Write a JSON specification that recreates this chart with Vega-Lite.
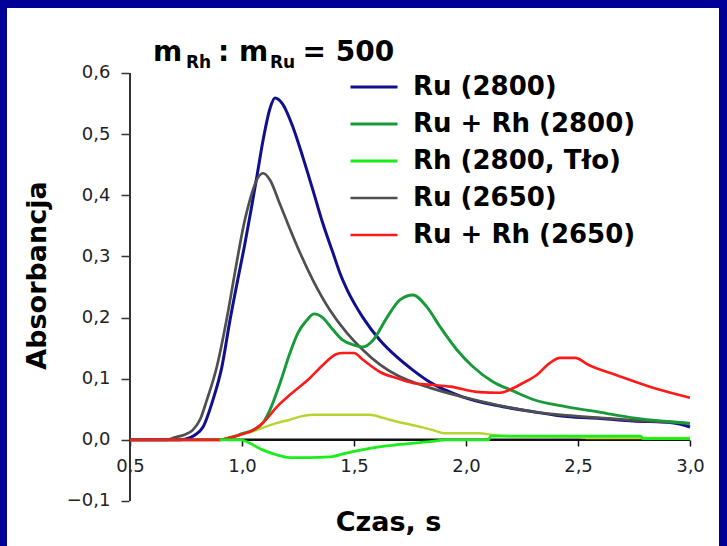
{
  "$schema": "https://vega.github.io/schema/vega-lite/v6.json",
  "width": 712,
  "height": 538,
  "autosize": {"type": "none"},
  "padding": {"left": 7, "top": 8, "right": 8, "bottom": 0},
  "background": "#000099",
  "config": {
    "view": {"fill": "white", "stroke": null},
    "font": "DejaVu Sans"
  },
  "datasets": {
    "one": [{}],
    "curves": [
      {"s": "Ru (2800)", "x": 0.5, "y": 0},
      {"s": "Ru (2800)", "x": 0.7, "y": 0},
      {"s": "Ru (2800)", "x": 0.745, "y": 0.001},
      {"s": "Ru (2800)", "x": 0.79, "y": 0.008},
      {"s": "Ru (2800)", "x": 0.826, "y": 0.021},
      {"s": "Ru (2800)", "x": 0.87, "y": 0.065},
      {"s": "Ru (2800)", "x": 0.91, "y": 0.119},
      {"s": "Ru (2800)", "x": 0.946, "y": 0.195},
      {"s": "Ru (2800)", "x": 0.98, "y": 0.26},
      {"s": "Ru (2800)", "x": 1.01, "y": 0.315},
      {"s": "Ru (2800)", "x": 1.04, "y": 0.375},
      {"s": "Ru (2800)", "x": 1.067, "y": 0.432},
      {"s": "Ru (2800)", "x": 1.094, "y": 0.49},
      {"s": "Ru (2800)", "x": 1.125, "y": 0.542},
      {"s": "Ru (2800)", "x": 1.147, "y": 0.559},
      {"s": "Ru (2800)", "x": 1.18, "y": 0.55},
      {"s": "Ru (2800)", "x": 1.228, "y": 0.511},
      {"s": "Ru (2800)", "x": 1.272, "y": 0.462},
      {"s": "Ru (2800)", "x": 1.317, "y": 0.408},
      {"s": "Ru (2800)", "x": 1.36, "y": 0.355},
      {"s": "Ru (2800)", "x": 1.406, "y": 0.306},
      {"s": "Ru (2800)", "x": 1.44, "y": 0.27},
      {"s": "Ru (2800)", "x": 1.47, "y": 0.245},
      {"s": "Ru (2800)", "x": 1.5, "y": 0.224},
      {"s": "Ru (2800)", "x": 1.54, "y": 0.2},
      {"s": "Ru (2800)", "x": 1.616, "y": 0.163},
      {"s": "Ru (2800)", "x": 1.69, "y": 0.136},
      {"s": "Ru (2800)", "x": 1.763, "y": 0.114},
      {"s": "Ru (2800)", "x": 1.84, "y": 0.094},
      {"s": "Ru (2800)", "x": 1.987, "y": 0.07},
      {"s": "Ru (2800)", "x": 2.14, "y": 0.056},
      {"s": "Ru (2800)", "x": 2.3, "y": 0.046},
      {"s": "Ru (2800)", "x": 2.45, "y": 0.038},
      {"s": "Ru (2800)", "x": 2.6, "y": 0.035},
      {"s": "Ru (2800)", "x": 2.746, "y": 0.031},
      {"s": "Ru (2800)", "x": 2.92, "y": 0.028},
      {"s": "Ru (2800)", "x": 3.0, "y": 0.021},

      {"s": "Ru (2650)", "x": 0.5, "y": 0},
      {"s": "Ru (2650)", "x": 0.66, "y": 0},
      {"s": "Ru (2650)", "x": 0.7, "y": 0.004},
      {"s": "Ru (2650)", "x": 0.74, "y": 0.008},
      {"s": "Ru (2650)", "x": 0.78, "y": 0.016},
      {"s": "Ru (2650)", "x": 0.815, "y": 0.035},
      {"s": "Ru (2650)", "x": 0.843, "y": 0.065},
      {"s": "Ru (2650)", "x": 0.888, "y": 0.12},
      {"s": "Ru (2650)", "x": 0.933, "y": 0.2},
      {"s": "Ru (2650)", "x": 0.969, "y": 0.275},
      {"s": "Ru (2650)", "x": 0.99, "y": 0.318},
      {"s": "Ru (2650)", "x": 1.01, "y": 0.355},
      {"s": "Ru (2650)", "x": 1.03, "y": 0.385},
      {"s": "Ru (2650)", "x": 1.05, "y": 0.41},
      {"s": "Ru (2650)", "x": 1.07, "y": 0.428},
      {"s": "Ru (2650)", "x": 1.095, "y": 0.436},
      {"s": "Ru (2650)", "x": 1.125, "y": 0.425},
      {"s": "Ru (2650)", "x": 1.17, "y": 0.385},
      {"s": "Ru (2650)", "x": 1.214, "y": 0.345},
      {"s": "Ru (2650)", "x": 1.259, "y": 0.306},
      {"s": "Ru (2650)", "x": 1.317, "y": 0.261},
      {"s": "Ru (2650)", "x": 1.393, "y": 0.212},
      {"s": "Ru (2650)", "x": 1.468, "y": 0.175},
      {"s": "Ru (2650)", "x": 1.54, "y": 0.147},
      {"s": "Ru (2650)", "x": 1.616, "y": 0.123},
      {"s": "Ru (2650)", "x": 1.69, "y": 0.106},
      {"s": "Ru (2650)", "x": 1.84, "y": 0.085},
      {"s": "Ru (2650)", "x": 1.987, "y": 0.07},
      {"s": "Ru (2650)", "x": 2.14, "y": 0.057},
      {"s": "Ru (2650)", "x": 2.3, "y": 0.046},
      {"s": "Ru (2650)", "x": 2.45, "y": 0.04},
      {"s": "Ru (2650)", "x": 2.6, "y": 0.036},
      {"s": "Ru (2650)", "x": 2.75, "y": 0.032},
      {"s": "Ru (2650)", "x": 2.9, "y": 0.029},
      {"s": "Ru (2650)", "x": 3.0, "y": 0.027},

      {"s": "Rh (2650, Tło)", "x": 0.9, "y": 0},
      {"s": "Rh (2650, Tło)", "x": 0.99, "y": 0.008},
      {"s": "Rh (2650, Tło)", "x": 1.05, "y": 0.014},
      {"s": "Rh (2650, Tło)", "x": 1.094, "y": 0.02},
      {"s": "Rh (2650, Tło)", "x": 1.15, "y": 0.027},
      {"s": "Rh (2650, Tło)", "x": 1.214, "y": 0.033},
      {"s": "Rh (2650, Tło)", "x": 1.26, "y": 0.038},
      {"s": "Rh (2650, Tło)", "x": 1.317, "y": 0.041},
      {"s": "Rh (2650, Tło)", "x": 1.45, "y": 0.041},
      {"s": "Rh (2650, Tło)", "x": 1.57, "y": 0.041},
      {"s": "Rh (2650, Tło)", "x": 1.63, "y": 0.036},
      {"s": "Rh (2650, Tło)", "x": 1.69, "y": 0.03},
      {"s": "Rh (2650, Tło)", "x": 1.75, "y": 0.025},
      {"s": "Rh (2650, Tło)", "x": 1.81, "y": 0.02},
      {"s": "Rh (2650, Tło)", "x": 1.86, "y": 0.015},
      {"s": "Rh (2650, Tło)", "x": 1.9, "y": 0.011},
      {"s": "Rh (2650, Tło)", "x": 2.06, "y": 0.011},
      {"s": "Rh (2650, Tło)", "x": 2.12, "y": 0.008},
      {"s": "Rh (2650, Tło)", "x": 2.2, "y": 0.006},
      {"s": "Rh (2650, Tło)", "x": 2.5, "y": 0.005},
      {"s": "Rh (2650, Tło)", "x": 2.55, "y": 0.003},
      {"s": "Rh (2650, Tło)", "x": 3.0, "y": 0.003},

      {"s": "Ru + Rh (2800)", "x": 0.5, "y": 0},
      {"s": "Ru + Rh (2800)", "x": 0.9, "y": 0},
      {"s": "Ru + Rh (2800)", "x": 0.95, "y": 0.004},
      {"s": "Ru + Rh (2800)", "x": 1.0, "y": 0.01},
      {"s": "Ru + Rh (2800)", "x": 1.05, "y": 0.016},
      {"s": "Ru + Rh (2800)", "x": 1.094, "y": 0.028},
      {"s": "Ru + Rh (2800)", "x": 1.125, "y": 0.049},
      {"s": "Ru + Rh (2800)", "x": 1.17, "y": 0.093},
      {"s": "Ru + Rh (2800)", "x": 1.214, "y": 0.142},
      {"s": "Ru + Rh (2800)", "x": 1.25, "y": 0.175},
      {"s": "Ru + Rh (2800)", "x": 1.29, "y": 0.196},
      {"s": "Ru + Rh (2800)", "x": 1.322, "y": 0.206},
      {"s": "Ru + Rh (2800)", "x": 1.36, "y": 0.2},
      {"s": "Ru + Rh (2800)", "x": 1.406, "y": 0.18},
      {"s": "Ru + Rh (2800)", "x": 1.45, "y": 0.163},
      {"s": "Ru + Rh (2800)", "x": 1.5, "y": 0.155},
      {"s": "Ru + Rh (2800)", "x": 1.54, "y": 0.152},
      {"s": "Ru + Rh (2800)", "x": 1.585, "y": 0.163},
      {"s": "Ru + Rh (2800)", "x": 1.647, "y": 0.2},
      {"s": "Ru + Rh (2800)", "x": 1.705, "y": 0.229},
      {"s": "Ru + Rh (2800)", "x": 1.763, "y": 0.237},
      {"s": "Ru + Rh (2800)", "x": 1.826, "y": 0.217},
      {"s": "Ru + Rh (2800)", "x": 1.884, "y": 0.185},
      {"s": "Ru + Rh (2800)", "x": 1.96, "y": 0.147},
      {"s": "Ru + Rh (2800)", "x": 2.03, "y": 0.12},
      {"s": "Ru + Rh (2800)", "x": 2.12, "y": 0.095},
      {"s": "Ru + Rh (2800)", "x": 2.21, "y": 0.08},
      {"s": "Ru + Rh (2800)", "x": 2.3, "y": 0.066},
      {"s": "Ru + Rh (2800)", "x": 2.45, "y": 0.054},
      {"s": "Ru + Rh (2800)", "x": 2.6, "y": 0.045},
      {"s": "Ru + Rh (2800)", "x": 2.746, "y": 0.036},
      {"s": "Ru + Rh (2800)", "x": 2.9, "y": 0.03},
      {"s": "Ru + Rh (2800)", "x": 3.0, "y": 0.027},

      {"s": "Ru + Rh (2650)", "x": 0.5, "y": 0},
      {"s": "Ru + Rh (2650)", "x": 0.9, "y": 0},
      {"s": "Ru + Rh (2650)", "x": 0.95, "y": 0.004},
      {"s": "Ru + Rh (2650)", "x": 0.99, "y": 0.008},
      {"s": "Ru + Rh (2650)", "x": 1.05, "y": 0.016},
      {"s": "Ru + Rh (2650)", "x": 1.094, "y": 0.028},
      {"s": "Ru + Rh (2650)", "x": 1.156, "y": 0.054},
      {"s": "Ru + Rh (2650)", "x": 1.228, "y": 0.078},
      {"s": "Ru + Rh (2650)", "x": 1.3, "y": 0.1},
      {"s": "Ru + Rh (2650)", "x": 1.36, "y": 0.122},
      {"s": "Ru + Rh (2650)", "x": 1.42, "y": 0.14},
      {"s": "Ru + Rh (2650)", "x": 1.45, "y": 0.142},
      {"s": "Ru + Rh (2650)", "x": 1.5, "y": 0.142},
      {"s": "Ru + Rh (2650)", "x": 1.54, "y": 0.131},
      {"s": "Ru + Rh (2650)", "x": 1.616, "y": 0.111},
      {"s": "Ru + Rh (2650)", "x": 1.69, "y": 0.101},
      {"s": "Ru + Rh (2650)", "x": 1.763, "y": 0.093},
      {"s": "Ru + Rh (2650)", "x": 1.84, "y": 0.09},
      {"s": "Ru + Rh (2650)", "x": 1.93, "y": 0.087},
      {"s": "Ru + Rh (2650)", "x": 2.06, "y": 0.078},
      {"s": "Ru + Rh (2650)", "x": 2.15, "y": 0.077},
      {"s": "Ru + Rh (2650)", "x": 2.196, "y": 0.082},
      {"s": "Ru + Rh (2650)", "x": 2.254, "y": 0.093},
      {"s": "Ru + Rh (2650)", "x": 2.316, "y": 0.106},
      {"s": "Ru + Rh (2650)", "x": 2.375, "y": 0.126},
      {"s": "Ru + Rh (2650)", "x": 2.42, "y": 0.134},
      {"s": "Ru + Rh (2650)", "x": 2.487, "y": 0.134},
      {"s": "Ru + Rh (2650)", "x": 2.55, "y": 0.122},
      {"s": "Ru + Rh (2650)", "x": 2.67, "y": 0.106},
      {"s": "Ru + Rh (2650)", "x": 2.82, "y": 0.087},
      {"s": "Ru + Rh (2650)", "x": 3.0, "y": 0.069},

      {"s": "Rh (2800, Tło)", "x": 0.9, "y": 0},
      {"s": "Rh (2800, Tło)", "x": 0.99, "y": 0},
      {"s": "Rh (2800, Tło)", "x": 1.09, "y": -0.016},
      {"s": "Rh (2800, Tło)", "x": 1.15, "y": -0.024},
      {"s": "Rh (2800, Tło)", "x": 1.214, "y": -0.029},
      {"s": "Rh (2800, Tło)", "x": 1.3, "y": -0.029},
      {"s": "Rh (2800, Tło)", "x": 1.39, "y": -0.028},
      {"s": "Rh (2800, Tło)", "x": 1.46, "y": -0.022},
      {"s": "Rh (2800, Tło)", "x": 1.54, "y": -0.016},
      {"s": "Rh (2800, Tło)", "x": 1.62, "y": -0.011},
      {"s": "Rh (2800, Tło)", "x": 1.69, "y": -0.008},
      {"s": "Rh (2800, Tło)", "x": 1.84, "y": -0.003},
      {"s": "Rh (2800, Tło)", "x": 1.915, "y": 0},
      {"s": "Rh (2800, Tło)", "x": 2.1, "y": 0},
      {"s": "Rh (2800, Tło)", "x": 2.11, "y": 0.006},
      {"s": "Rh (2800, Tło)", "x": 2.78, "y": 0.006},
      {"s": "Rh (2800, Tło)", "x": 2.79, "y": 0.002},
      {"s": "Rh (2800, Tło)", "x": 3.0, "y": 0.002}
    ]
  },
  "layer": [
    {
      "data": {"name": "one"},
      "mark": {"type": "rule", "color": "#111111", "strokeWidth": 2.5},
      "encoding": {
        "x": {"datum": 0.5, "type": "quantitative"},
        "x2": {"datum": 3.0},
        "y": {"datum": 0, "type": "quantitative"}
      }
    },
    {
      "data": {"name": "one"},
      "mark": {"type": "rule", "color": "#333333", "strokeWidth": 2},
      "encoding": {
        "x": {"datum": 0.5, "type": "quantitative"},
        "y": {"datum": -0.1, "type": "quantitative"},
        "y2": {"datum": 0.6}
      }
    },
    {
      "data": {"name": "curves"},
      "mark": {"type": "line", "interpolate": "monotone"},
      "encoding": {
        "x": {
          "field": "x", "type": "quantitative",
          "scale": {"domain": [-0.0491, 3.1295], "nice": false, "zero": false},
          "axis": {
            "title": "Czas, s",
            "values": [0.5, 1.0, 1.5, 2.0, 2.5, 3.0],
            "labelExpr": "replace(format(datum.value, '.1f'), '.', ',')",
            "offset": -106,
            "domain": false,
            "grid": false,
            "tickSize": 6,
            "tickColor": "#111111",
            "tickWidth": 1.5,
            "labelFont": "DejaVu Sans",
            "labelFontSize": 18,
            "labelColor": "#222222",
            "labelPadding": 11,
            "labelFlush": false,
            "titleFont": "DejaVu Sans",
            "titleFontSize": 27,
            "titleFontWeight": "bold",
            "titleColor": "black",
            "titleX": 381,
            "titleY": 90,
            "titleAlign": "center",
            "titleBaseline": "alphabetic"
          }
        },
        "y": {
          "field": "y", "type": "quantitative",
          "scale": {"domain": [-0.1736, 0.7063], "nice": false, "zero": false},
          "axis": {
            "title": "Absorbancja",
            "values": [-0.1, 0, 0.1, 0.2, 0.3, 0.4, 0.5, 0.6],
            "labelExpr": "replace(format(datum.value, '.1f'), '.', ',')",
            "offset": -122,
            "domain": false,
            "grid": false,
            "tickSize": 8,
            "tickColor": "#333333",
            "tickWidth": 1.5,
            "labelFont": "DejaVu Sans",
            "labelFontSize": 18,
            "labelColor": "#222222",
            "labelPadding": 11,
            "labelFlush": false,
            "titleFont": "DejaVu Sans",
            "titleFontSize": 27,
            "titleFontWeight": "bold",
            "titleColor": "black",
            "titleAngle": -90,
            "titleX": -92,
            "titleY": 267,
            "titleAlign": "center",
            "titleBaseline": "middle"
          }
        },
        "color": {
          "field": "s", "type": "nominal",
          "scale": {
            "domain": ["Ru (2800)", "Ru + Rh (2800)", "Rh (2800, Tło)", "Ru (2650)", "Ru + Rh (2650)", "Rh (2650, Tło)"],
            "range": ["#10108f", "#179a38", "#19ee19", "#4f4f4f", "#ff1a1a", "#b8d430"]
          },
          "legend": {
            "values": ["Ru (2800)", "Ru + Rh (2800)", "Rh (2800, Tło)", "Ru (2650)", "Ru + Rh (2650)"],
            "title": null,
            "orient": "none",
            "legendX": 342,
            "legendY": 66,
            "padding": 0,
            "symbolType": "stroke",
            "symbolSize": 2209,
            "symbolStrokeWidth": 5,
            "clipHeight": 26,
            "rowPadding": 11,
            "labelOffset": 14,
            "labelFont": "DejaVu Sans",
            "labelFontSize": 26,
            "labelFontWeight": "bold",
            "labelColor": "black",
            "labelLimit": 400
          }
        },
        "strokeWidth": {
          "field": "s", "type": "nominal",
          "scale": {
            "domain": ["Ru (2800)", "Ru + Rh (2800)", "Rh (2800, Tło)", "Ru (2650)", "Ru + Rh (2650)", "Rh (2650, Tło)"],
            "range": [3, 2.5, 2.5, 3, 2.5, 2.5]
          },
          "legend": null
        }
      }
    },
    {
      "data": {"name": "one"},
      "mark": {"type": "text", "font": "DejaVu Sans", "fontWeight": "bold", "fontSize": 28, "align": "left", "baseline": "alphabetic", "color": "black"},
      "encoding": {"x": {"datum": 0.6027, "type": "quantitative"}, "y": {"datum": 0.6196, "type": "quantitative"}, "text": {"value": "m"}}
    },
    {
      "data": {"name": "one"},
      "mark": {"type": "text", "font": "DejaVu Sans", "fontWeight": "bold", "fontSize": 17, "align": "left", "baseline": "alphabetic", "color": "black"},
      "encoding": {"x": {"datum": 0.75, "type": "quantitative"}, "y": {"datum": 0.6082, "type": "quantitative"}, "text": {"value": "Rh"}}
    },
    {
      "data": {"name": "one"},
      "mark": {"type": "text", "font": "DejaVu Sans", "fontWeight": "bold", "fontSize": 28, "align": "left", "baseline": "alphabetic", "color": "black"},
      "encoding": {"x": {"datum": 0.893, "type": "quantitative"}, "y": {"datum": 0.6196, "type": "quantitative"}, "text": {"value": ": m"}}
    },
    {
      "data": {"name": "one"},
      "mark": {"type": "text", "font": "DejaVu Sans", "fontWeight": "bold", "fontSize": 17, "align": "left", "baseline": "alphabetic", "color": "black"},
      "encoding": {"x": {"datum": 1.125, "type": "quantitative"}, "y": {"datum": 0.6082, "type": "quantitative"}, "text": {"value": "Ru"}}
    },
    {
      "data": {"name": "one"},
      "mark": {"type": "text", "font": "DejaVu Sans", "fontWeight": "bold", "fontSize": 28, "align": "left", "baseline": "alphabetic", "color": "black"},
      "encoding": {"x": {"datum": 1.27, "type": "quantitative"}, "y": {"datum": 0.6196, "type": "quantitative"}, "text": {"value": "= 500"}}
    }
  ]
}
